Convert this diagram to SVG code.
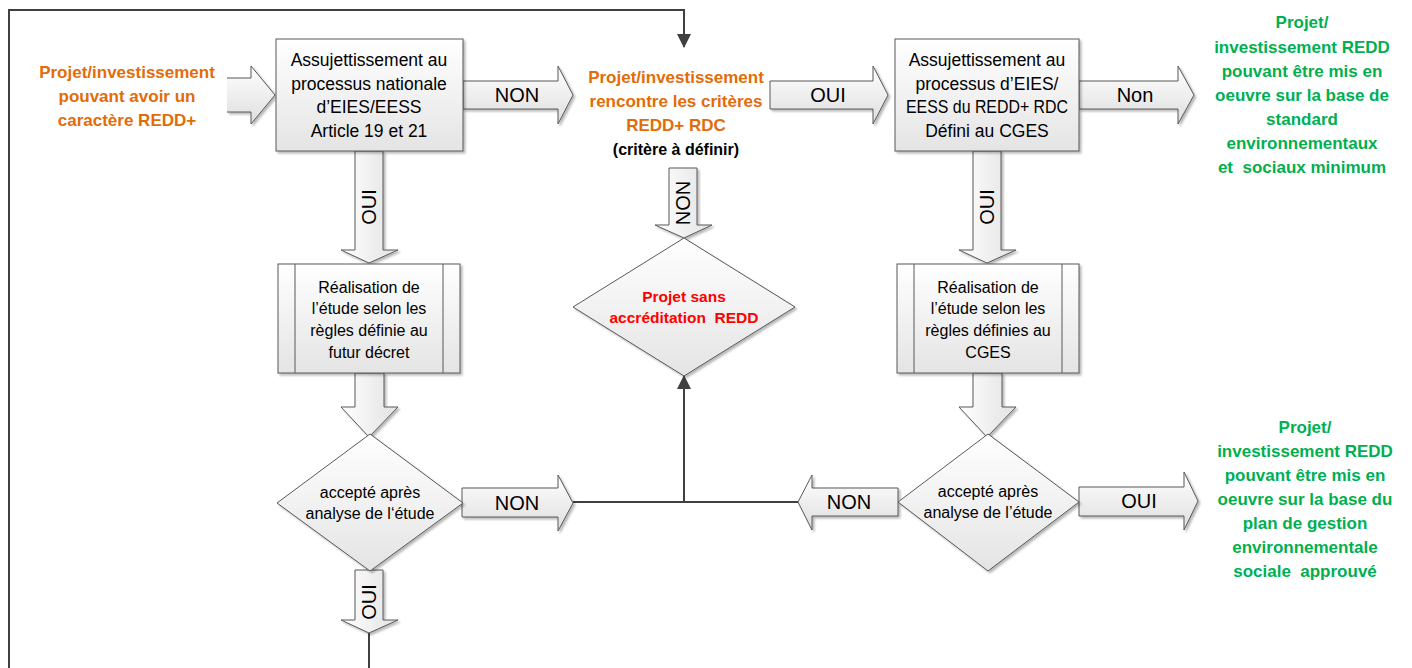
<svg xmlns="http://www.w3.org/2000/svg" width="1412" height="668" viewBox="0 0 1412 668">
<defs>
<linearGradient id="gBox" x1="0" y1="0" x2="0" y2="1">
<stop offset="0" stop-color="#ffffff"/><stop offset="1" stop-color="#e4e4e4"/>
</linearGradient>
<linearGradient id="gArrH" x1="0" y1="0" x2="0" y2="1">
<stop offset="0" stop-color="#ffffff"/><stop offset="1" stop-color="#dedede"/>
</linearGradient>
<linearGradient id="gArrV" x1="0" y1="0" x2="1" y2="0">
<stop offset="0" stop-color="#ffffff"/><stop offset="1" stop-color="#e2e2e2"/>
</linearGradient>
<filter id="sh" x="-10%" y="-10%" width="130%" height="130%">
<feDropShadow dx="2" dy="2" stdDeviation="1.2" flood-color="#000" flood-opacity="0.28"/>
</filter>
<marker id="ah" markerWidth="14" markerHeight="14" viewBox="0 0 14 14" refX="13" refY="7" orient="auto" markerUnits="userSpaceOnUse">
<path d="M0,0 L14,7 L0,14 Z" fill="#404040"/>
</marker>
<style>
.box{fill:url(#gBox);stroke:#595959;stroke-width:1;filter:url(#sh)}
.ah{fill:url(#gArrH);stroke:#595959;stroke-width:1;filter:url(#sh)}
.av{fill:url(#gArrV);stroke:#595959;stroke-width:1;filter:url(#sh)}
.ln{fill:none;stroke:#404040;stroke-width:2}
.t{font-family:"Liberation Sans",Arial,sans-serif;fill:#000;text-anchor:middle}
.bx{font-size:17.5px}
.sm{font-size:16px}
.lb{font-size:20px}
.or{font-family:"Liberation Sans",Arial,sans-serif;font-weight:bold;font-size:17px;fill:#E36C09;text-anchor:middle}
.gr{font-family:"Liberation Sans",Arial,sans-serif;font-weight:bold;font-size:17px;fill:#00B050;text-anchor:middle}
.rd{font-family:"Liberation Sans",Arial,sans-serif;font-weight:bold;font-size:15.5px;fill:#FF0000;text-anchor:middle}
</style>
</defs>
<rect width="1412" height="668" fill="#ffffff"/>

<g id="connectors">
<path class="ln" d="M369,633 V668"/>
<path class="ln" d="M9,668 V10 H684 V47" marker-end="url(#ah)"/>
<path class="ln" d="M573,502 H798"/>
<path class="ln" d="M684,502 V376" marker-end="url(#ah)"/>

<g id="arr-input">
<path class="ah" d="M227,78 H251 V66 L275,95 L251,124 V112 H227"/>
</g>
<g id="arr-non-1">
<path class="ah" d="M463,81 H558 V66 L573,95 L558,124 V109 H463 Z"/>
<text class="t lb" x="517" y="102">NON</text>
</g>
<g id="arr-oui-top">
<path class="ah" d="M770,81 H873 V66 L888,95 L873,124 V109 H770 Z"/>
<text class="t lb" x="828" y="102">OUI</text>
</g>
<g id="arr-non-top">
<path class="ah" d="M1079,81 H1178 V66 L1194,95 L1178,124 V109 H1079 Z"/>
<text class="t lb" x="1135" y="102">Non</text>
</g>
<g id="arr-oui-1">
<path class="av" d="M355,151 V250 H341 L369,263 L398,250 H383 V151 Z"/>
<text class="t lb" transform="translate(376,207) rotate(-90)">OUI</text>
</g>
<g id="arr-down-1">
<path class="av" d="M355,373 V407 H341 L369,437 L398,407 H384 V373 Z"/>
</g>
<g id="arr-oui-2">
<path class="av" d="M355,570 V620 H341 L369,633 L398,620 H383 V570 Z"/>
<text class="t lb" transform="translate(376,602) rotate(-90)">OUI</text>
</g>
<g id="arr-non-mid">
<path class="av" d="M669,168 V225 H655 L684,238 L712,225 H697 V168 Z"/>
<text class="t lb" transform="translate(690,203) rotate(-90)">NON</text>
</g>
<g id="arr-oui-3">
<path class="av" d="M973,151 V250 H959 L987,263 L1016,250 H1001 V151 Z"/>
<text class="t lb" transform="translate(994,207) rotate(-90)">OUI</text>
</g>
<g id="arr-down-3">
<path class="av" d="M973,373 V407 H959 L987,437 L1016,407 H1002 V373 Z"/>
</g>
<g id="arr-non-bl">
<path class="ah" d="M462,488 H558 V475 L573,503 L558,531 V517 H462 Z"/>
<text class="t lb" x="517" y="510">NON</text>
</g>
<g id="arr-non-br">
<path class="ah" d="M898,488 H812 V475 L798,502 L812,530 V516 H898 Z"/>
<text class="t lb" x="849" y="509">NON</text>
</g>
<g id="arr-oui-br">
<path class="ah" d="M1079,487 H1184 V472 L1198,501 L1184,530 V516 H1079 Z"/>
<text class="t lb" x="1139" y="508">OUI</text>
</g>
</g>

<g id="n-input">
<text class="or" x="127" y="78">Projet/investissement</text>
<text class="or" x="127" y="102">pouvant avoir un</text>
<text class="or" x="127" y="126">caractère REDD+</text>
</g>

<g id="n-box1">
<rect class="box" x="276" y="39" width="187" height="112"/>
<text class="t bx" x="369" y="66">Assujettissement au</text>
<text class="t bx" x="369" y="90">processus nationale</text>
<text class="t bx" x="369" y="113">d’EIES/EESS</text>
<text class="t bx" x="369" y="137">Article 19 et 21</text>
</g>

<g id="n-criteria">
<text class="or" x="676" y="83">Projet/investissement</text>
<text class="or" x="676" y="107">rencontre les critères</text>
<text class="or" x="676" y="131">REDD+ RDC</text>
<text class="t" x="676" y="155" style="font-weight:bold;font-size:16px">(critère à définir)</text>
</g>

<g id="n-box3">
<rect class="box" x="895" y="39" width="184" height="112"/>
<text class="t bx" x="987" y="66">Assujettissement au</text>
<text class="t bx" x="987" y="90">processus d’EIES/</text>
<text class="t bx" x="987" y="113" textLength="162" lengthAdjust="spacingAndGlyphs">EESS du REDD+ RDC</text>
<text class="t bx" x="987" y="137">Défini au CGES</text>
</g>

<g id="n-out-top">
<text class="gr" x="1302" y="28">Projet/</text>
<text class="gr" x="1302" y="53">investissement REDD</text>
<text class="gr" x="1302" y="77">pouvant être mis en</text>
<text class="gr" x="1302" y="101">oeuvre sur la base de</text>
<text class="gr" x="1302" y="125">standard</text>
<text class="gr" x="1302" y="149">environnementaux</text>
<text class="gr" x="1302" y="173" xml:space="preserve">et  sociaux minimum</text>
</g>

<g id="n-real1">
<rect class="box" x="278" y="264" width="182" height="109"/>
<line x1="295" y1="264" x2="295" y2="373" stroke="#595959" stroke-width="1"/>
<line x1="443" y1="264" x2="443" y2="373" stroke="#595959" stroke-width="1"/>
<text class="t sm" x="369" y="293">Réalisation de</text>
<text class="t sm" x="369" y="314">l’étude selon les</text>
<text class="t sm" x="369" y="336">règles définie au</text>
<text class="t sm" x="369" y="358">futur décret</text>
</g>

<g id="n-noaccr">
<polygon class="box" points="684,238 795,307 684,376 573,307"/>
<text class="rd" x="684" y="302">Projet sans</text>
<text class="rd" x="684" y="323" xml:space="preserve">accréditation  REDD</text>
</g>

<g id="n-real3">
<rect class="box" x="897" y="264" width="182" height="109"/>
<line x1="914" y1="264" x2="914" y2="373" stroke="#595959" stroke-width="1"/>
<line x1="1062" y1="264" x2="1062" y2="373" stroke="#595959" stroke-width="1"/>
<text class="t sm" x="988" y="293">Réalisation de</text>
<text class="t sm" x="988" y="314">l’étude selon les</text>
<text class="t sm" x="988" y="336">règles définies au</text>
<text class="t sm" x="988" y="358">CGES</text>
</g>

<g id="n-dec1">
<polygon class="box" points="370,434 463,503 370,571 277,503"/>
<text class="t sm" x="370" y="498">accepté après</text>
<text class="t sm" x="370" y="519">analyse de l‘étude</text>
</g>

<g id="n-dec3">
<polygon class="box" points="988,434 1079,502 988,571 898,502"/>
<text class="t sm" x="988" y="497">accepté après</text>
<text class="t sm" x="988" y="518">analyse de l’étude</text>
</g>

<g id="n-out-bottom">
<text class="gr" x="1305" y="433">Projet/</text>
<text class="gr" x="1305" y="457">investissement REDD</text>
<text class="gr" x="1305" y="481">pouvant être mis en</text>
<text class="gr" x="1305" y="505">oeuvre sur la base du</text>
<text class="gr" x="1305" y="529">plan de gestion</text>
<text class="gr" x="1305" y="553">environnementale</text>
<text class="gr" x="1305" y="577" xml:space="preserve">sociale  approuvé</text>
</g>
</svg>
